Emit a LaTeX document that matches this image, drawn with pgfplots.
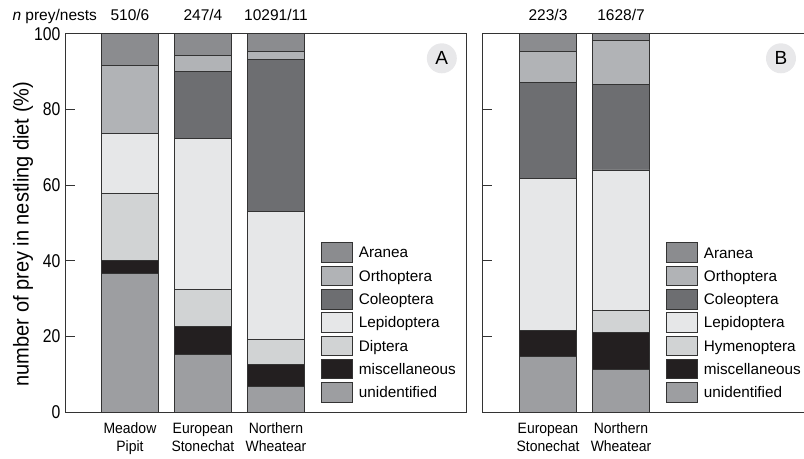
\documentclass[border=0pt]{standalone}
\usepackage{fontspec}
\setmainfont{Liberation Sans}
\newfontfamily\condfont{Liberation Sans}[FakeStretch=0.93]
\newfontfamily\tickfont{Liberation Sans}[FakeStretch=0.85]
\usepackage{pgfplots}
\usepackage{pgfplotstable}
\pgfplotsset{compat=1.18}

\definecolor{cUnid}{HTML}{9D9EA1}
\definecolor{cMisc}{HTML}{231F20}
\definecolor{cDipt}{HTML}{D1D3D4}
\definecolor{cLep}{HTML}{E6E7E8}
\definecolor{cCol}{HTML}{6D6E71}
\definecolor{cOrth}{HTML}{B1B3B6}
\definecolor{cAran}{HTML}{8B8C8F}
\definecolor{cEdge}{HTML}{333333}
\definecolor{cCirc}{HTML}{E8E8EA}

% percentage of prey categories per species (bottom to top)
\pgfplotstableread{
x unid misc dipt lep col orth aran
0 36.7 3.3 17.8 15.9 0 17.9 8.4
1 15.3 7.3 9.9 39.8 17.8 4.1 5.8
2 6.9 5.6 6.8 33.7 40.2 2.0 4.8
}\dataA
\pgfplotstableread{
x unid misc hym lep col orth aran
0 14.8 6.9 0 40.1 25.3 8.1 4.8
1 11.3 9.8 5.7 37.2 22.6 11.5 1.9
}\dataB

\newcommand{\toplabel}{\fontsize{15.5bp}{15.5bp}\selectfont}

\pgfplotsset{
  bseg/.style={fill=#1, draw=cEdge, line width=0.8bp},
  panel/.style={
    scale only axis, x=73bp, y=3.785bp,
    ymin=0, ymax=100, clip=false,
    ybar stacked, bar width=57bp,
    legend image code/.code={\draw[##1] (0bp,-9.75bp) rectangle (31bp,9.75bp);},
    reverse legend,
    axis line style={draw=cEdge, line width=1bp, -},
    ytick={0,20,...,100}, tick align=inside, major tick length=10bp,
    ytick pos=left,
    every tick/.style={cEdge, line width=1bp},
    xtick={0,1,2}, major x tick style={draw=none},
    /pgf/number format/assume math mode=true,
    yticklabel style={font=\tickfont\fontsize{18.5bp}{18.5bp}\selectfont, xshift=-1bp},
    xticklabel style={font=\condfont\fontsize{15bp}{18.4bp}\selectfont,
      align=center, yshift=-7bp},
    legend style={draw=none, fill=none, inner sep=0pt, anchor=north west,
      font=\fontsize{15.3bp}{15.3bp}\selectfont, row sep=3bp,
      nodes={inner sep=0pt, text height=10.8bp, text depth=0bp},
      /tikz/every odd column/.append style={column sep=6bp}},
    legend cell align=left,
  },
}

\begin{document}
\begin{tikzpicture}
\useasboundingbox (0,0) rectangle (804bp,459bp);

% panel A
\begin{axis}[panel, at={(65bp,46.8bp)}, anchor=south west,
  xmin=-0.89, xmax=4.613,
  xticklabels={Meadow\\Pipit, European\\Stonechat, Northern\\Wheatear},
  legend style={at={(0.637,0.449)}}]
\addplot[bseg=cUnid] table[x=x, y=unid] {\dataA};
\addplot[bseg=cMisc] table[x=x, y=misc] {\dataA};
\addplot[bseg=cDipt] table[x=x, y=dipt] {\dataA};
\addplot[bseg=cLep]  table[x=x, y=lep]  {\dataA};
\addplot[bseg=cCol]  table[x=x, y=col]  {\dataA};
\addplot[bseg=cOrth] table[x=x, y=orth] {\dataA};
\addplot[bseg=cAran] table[x=x, y=aran] {\dataA};
\legend{unidentified, miscellaneous, Diptera, Lepidoptera, Coleoptera, Orthoptera, Aranea}
\node[font=\toplabel, anchor=base west]
  at (rel axis cs:0,1) [xshift=-56bp, yshift=13bp] {\textit{n} prey/nests};
\node[font=\toplabel, anchor=base] at (axis cs:0,100) [yshift=13bp] {510/6};
\node[font=\toplabel, anchor=base] at (axis cs:1,100) [yshift=13bp] {247/4};
\node[font=\toplabel, anchor=base] at (axis cs:2,100) [yshift=13bp] {10291/11};
\node[circle, fill=cCirc, minimum size=30bp, inner sep=0pt,
  font=\fontsize{19bp}{19bp}\selectfont] at (rel axis cs:0.938,0.935) {A};
\end{axis}

% panel B
\begin{axis}[panel, at={(482bp,46.8bp)}, anchor=south west,
  xmin=-0.904, xmax=3.50,
  axis y line*=left,
  xtick={0,1},
  xticklabels={European\\Stonechat, Northern\\Wheatear},
  yticklabels={},
  legend style={at={(0.572,0.449)}}]
\addplot[bseg=cUnid] table[x=x, y=unid] {\dataB};
\addplot[bseg=cMisc] table[x=x, y=misc] {\dataB};
\addplot[bseg=cDipt] table[x=x, y=hym]  {\dataB};
\addplot[bseg=cLep]  table[x=x, y=lep]  {\dataB};
\addplot[bseg=cCol]  table[x=x, y=col]  {\dataB};
\addplot[bseg=cOrth] table[x=x, y=orth] {\dataB};
\addplot[bseg=cAran] table[x=x, y=aran] {\dataB};
\legend{unidentified, miscellaneous, Hymenoptera, Lepidoptera, Coleoptera, Orthoptera, Aranea}
\node[font=\toplabel, anchor=base] at (axis cs:0,100) [yshift=13bp] {223/3};
\node[font=\toplabel, anchor=base] at (axis cs:1,100) [yshift=13bp] {1628/7};
\node[circle, fill=cCirc, minimum size=30bp, inner sep=0pt,
  font=\fontsize{19bp}{19bp}\selectfont] at (rel axis cs:0.930,0.935) {B};
\end{axis}

\node[rotate=90, font=\condfont\fontsize{21.5bp}{21.5bp}\selectfont] at (23bp,225bp)
  {number of prey in nestling diet (\%)};
\end{tikzpicture}
\end{document}
